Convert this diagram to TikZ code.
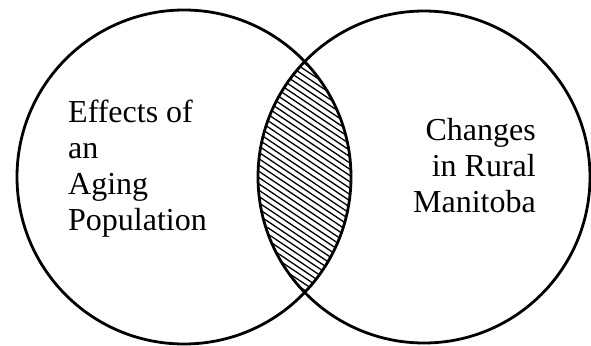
\documentclass[tikz,border=0pt]{standalone}
\usepackage{fontspec}
\setmainfont{Liberation Serif}
\newfontfamily\lblfont{Liberation Serif}
\begin{document}
\begin{tikzpicture}[x=1pt,y=-1pt,
  ring/.style={draw=black, line width=2.8pt},
  hatchline/.style={draw=black, line width=1.3pt},
  lbl/.style={font=\lblfont\fontsize{32}{36}\selectfont, inner sep=0pt}]
\useasboundingbox (0,0) rectangle (591,345);
\begin{scope}
  \clip (184,177) circle[radius=167];
  \clip (424,177) circle[radius=166];
  \foreach \k in {-26,...,26} {
    \draw[hatchline] (205,110+\k*6.3) -- (405,244+\k*6.3);
  }
\end{scope}
\node[ring, circle, minimum size=334pt, inner sep=0pt] (left) at (184,177) {};
\node[ring, circle, minimum size=332pt, inner sep=0pt] (right) at (424,177) {};
\node[lbl, anchor=north west, align=left] (ltext) at (68,100) {Effects of\\an\\Aging\\Population};
\node[lbl, anchor=north east, align=right] (rtext) at (536,118) {Changes\\in Rural\\Manitoba};
\end{tikzpicture}
\end{document}
